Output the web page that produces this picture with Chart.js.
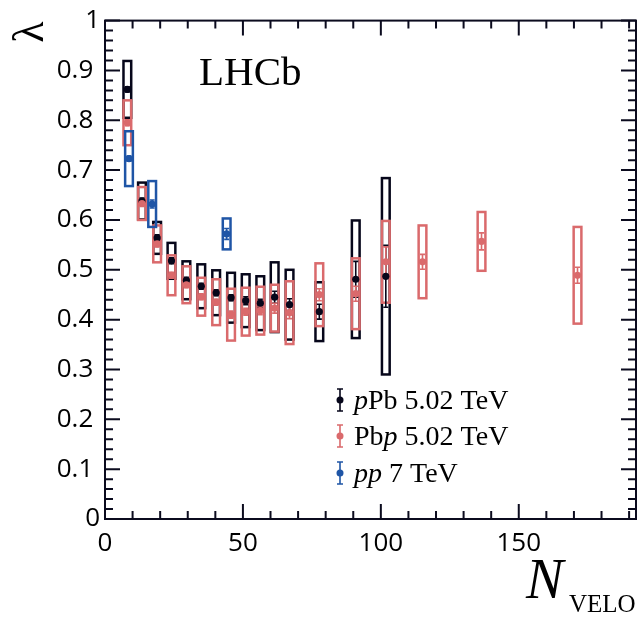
<!DOCTYPE html>
<html>
<head>
<meta charset="utf-8">
<script src="https://cdn.jsdelivr.net/npm/chart.js@4/dist/chart.umd.min.js"></script>
<style>
  html, body { margin: 0; padding: 0; background: #ffffff; }
  #wrap { width: 640px; height: 618px; }
</style>
</head>
<body>
<div id="wrap"><canvas id="c" width="640" height="618"></canvas></div>
<script>
// ---------------- data ----------------
// pPb 5.02 TeV
const nVeloPPb   = [8.1, 13.4, 18.9, 24.1, 29.5, 34.9, 40.3, 45.7, 51.0, 56.3, 61.5, 66.9, 77.7, 90.9, 101.8];
const lambdaPPb  = [0.862, 0.638, 0.564, 0.518, 0.479, 0.467, 0.454, 0.444, 0.438, 0.433, 0.445, 0.430, 0.416, 0.481, 0.487];
const statPPb    = [0.005, 0.006, 0.006, 0.006, 0.006, 0.006, 0.006, 0.006, 0.008, 0.008, 0.012, 0.012, 0.015, 0.036, 0.062];
const sysPPb     = [0.057, 0.037, 0.032, 0.036, 0.038, 0.044, 0.045, 0.050, 0.053, 0.054, 0.070, 0.070, 0.059, 0.118, 0.197];

// Pbp 5.02 TeV
const nVeloPbp   = [8.1, 13.4, 18.9, 24.1, 29.5, 34.9, 40.3, 45.7, 51.0, 56.3, 61.5, 66.9, 77.7, 90.9, 101.8, 115.1, 136.5, 171.3];
const lambdaPbp  = [0.795, 0.633, 0.552, 0.489, 0.470, 0.446, 0.435, 0.410, 0.416, 0.418, 0.423, 0.414, 0.450, 0.452, 0.516, 0.516, 0.557, 0.489];
const statPbp    = [0.006, 0.006, 0.006, 0.006, 0.006, 0.006, 0.006, 0.007, 0.007, 0.008, 0.010, 0.012, 0.012, 0.015, 0.030, 0.015, 0.017, 0.016];
const sysPbp     = [0.045, 0.033, 0.037, 0.040, 0.037, 0.038, 0.046, 0.052, 0.048, 0.048, 0.047, 0.063, 0.063, 0.071, 0.082, 0.073, 0.059, 0.097];

// pp 7 TeV
const nVeloPP    = [8.7, 17.1, 44.1];
const lambdaPP   = [0.723, 0.632, 0.572];
const statPP     = [0.005, 0.008, 0.011];
const sysPP      = [0.055, 0.046, 0.031];

// axis ticks
const xMajorTicks = [0, 50, 100, 150];
const yMajorTicks = [0, 0.1, 0.2, 0.3, 0.4, 0.5, 0.6, 0.7, 0.8, 0.9, 1];
const seriesLabels = ['pPb 5.02 TeV', 'Pbp 5.02 TeV', 'pp 7 TeV'];

// ---------------- styles ----------------
const COL_BLACK = '#06061a';
const COL_RED   = '#da6a6c';
const COL_BLUE  = '#1f55a6';
const COL_AXIS  = '#0b0b1e';
const BOX_HALF_W = 1.4;   // half width of systematic boxes in N_VELO units

function pts(xs, ys) { return xs.map((x, i) => ({ x: x, y: ys[i] })); }

const series = [
  { xs: nVeloPPb, ys: lambdaPPb, stat: statPPb, sys: sysPPb, color: COL_BLACK },
  { xs: nVeloPbp, ys: lambdaPbp, stat: statPbp, sys: sysPbp, color: COL_RED },
  { xs: nVeloPP,  ys: lambdaPP,  stat: statPP,  sys: sysPP,  color: COL_BLUE }
];

const deco = {
  id: 'deco',
  beforeDatasetsDraw(chart) {
    const ctx = chart.ctx, xs = chart.scales.x, ys = chart.scales.y;
    ctx.save();
    series.forEach(s => {
      ctx.strokeStyle = s.color;
      ctx.lineWidth = 2.5;
      s.xs.forEach((x, i) => {
        const x0 = xs.getPixelForValue(x - BOX_HALF_W), x1 = xs.getPixelForValue(x + BOX_HALF_W);
        const y0 = ys.getPixelForValue(s.ys[i] + s.sys[i]), y1 = ys.getPixelForValue(s.ys[i] - s.sys[i]);
        ctx.strokeRect(x0, y0, x1 - x0, y1 - y0);
      });
    });
    series.forEach(s => {
      ctx.strokeStyle = s.color;
      ctx.lineWidth = 1.6;
      s.xs.forEach((x, i) => {
        const px = xs.getPixelForValue(x);
        const y0 = ys.getPixelForValue(s.ys[i] + s.stat[i]), y1 = ys.getPixelForValue(s.ys[i] - s.stat[i]);
        ctx.beginPath();
        ctx.moveTo(px, y0); ctx.lineTo(px, y1);
        ctx.moveTo(px - 2.5, y0); ctx.lineTo(px + 2.5, y0);
        ctx.moveTo(px - 2.5, y1); ctx.lineTo(px + 2.5, y1);
        ctx.stroke();
      });
    });
    ctx.restore();
  },
  afterDraw(chart) {
    const ctx = chart.ctx, xs = chart.scales.x, ys = chart.scales.y, a = chart.chartArea;
    ctx.save();
    ctx.strokeStyle = COL_AXIS;
    ctx.lineWidth = 2;
    ctx.strokeRect(a.left, a.top, a.right - a.left, a.bottom - a.top);
    ctx.beginPath();
    for (let v = 0; v <= xs.max + 1e-9; v += 10) {
      const px = xs.getPixelForValue(v);
      const len = (Math.abs(v % 50) < 1e-6) ? 15 : 8;
      ctx.moveTo(px, a.bottom); ctx.lineTo(px, a.bottom - len);
      ctx.moveTo(px, a.top); ctx.lineTo(px, a.top + len);
    }
    for (let k = 0; k <= 50; k++) {
      const v = k * 0.02;
      const py = ys.getPixelForValue(v);
      const len = (k % 5 === 0) ? 15 : 8;
      ctx.moveTo(a.left, py); ctx.lineTo(a.left + len, py);
      ctx.moveTo(a.right, py); ctx.lineTo(a.right - len, py);
    }
    ctx.stroke();

    // y-axis title (lambda), rotated
    ctx.fillStyle = '#000';
    ctx.save();
    ctx.translate(31, 32);
    ctx.rotate(-Math.PI / 2);
    ctx.font = '44px "Liberation Serif"';
    ctx.textAlign = 'center';
    ctx.textBaseline = 'middle';
    ctx.fillText('λ', 0, 0);
    ctx.restore();

    // x-axis title N_VELO
    ctx.textAlign = 'left';
    ctx.textBaseline = 'alphabetic';
    ctx.font = 'italic 56px "Liberation Serif"';
    ctx.fillText('N', 526, 598);
    ctx.font = '25px "Liberation Serif"';
    ctx.fillText('VELO', 569, 612);

    // LHCb label
    ctx.font = '41px "Liberation Serif"';
    ctx.fillText('LHCb', 199, 85);

    // legend
    const legX = 340, textX = 354;
    const rows = [
      { y: 400, color: COL_BLACK, parts: [['p', true], ['Pb 5.02 TeV', false]] },
      { y: 436, color: COL_RED,   parts: [['Pb', false], ['p', true], [' 5.02 TeV', false]] },
      { y: 473, color: COL_BLUE,  parts: [['pp', true], [' 7 TeV', false]] }
    ];
    rows.forEach(r => {
      ctx.strokeStyle = r.color;
      ctx.fillStyle = r.color;
      ctx.lineWidth = 1.6;
      ctx.beginPath();
      ctx.moveTo(legX, r.y - 11); ctx.lineTo(legX, r.y + 11);
      ctx.moveTo(legX - 3, r.y - 11); ctx.lineTo(legX + 3, r.y - 11);
      ctx.moveTo(legX - 3, r.y + 11); ctx.lineTo(legX + 3, r.y + 11);
      ctx.stroke();
      ctx.beginPath();
      ctx.arc(legX, r.y, 3.5, 0, Math.PI * 2);
      ctx.fill();
      ctx.fillStyle = '#000';
      let tx = textX;
      r.parts.forEach(p => {
        ctx.font = (p[1] ? 'italic ' : '') + '28px "Liberation Serif"';
        ctx.fillText(p[0], tx, r.y + 9);
        tx += ctx.measureText(p[0]).width;
      });
    });
    ctx.restore();
  }
};

const tickFont = { family: '"Open Sans"', size: 26 };

new Chart(document.getElementById('c'), {
  type: 'scatter',
  data: {
    datasets: [
      { label: seriesLabels[1], data: pts(nVeloPbp, lambdaPbp), backgroundColor: COL_RED, borderColor: COL_RED,
        pointRadius: 3.6, pointBorderWidth: 0, order: 0 },
      { label: seriesLabels[0], data: pts(nVeloPPb, lambdaPPb), backgroundColor: COL_BLACK, borderColor: COL_BLACK,
        pointRadius: 3.6, pointBorderWidth: 0, order: 1 },
      { label: seriesLabels[2], data: pts(nVeloPP, lambdaPP), backgroundColor: COL_BLUE, borderColor: COL_BLUE,
        pointRadius: 3.6, pointBorderWidth: 0, order: 2 }
    ]
  },
  options: {
    responsive: false,
    animation: false,
    events: [],
    layout: { padding: { top: 16, right: 2, left: 0, bottom: 0 } },
    plugins: { legend: { display: false }, tooltip: { enabled: false } },
    scales: {
      x: {
        type: 'linear', min: 0, max: 192.5,
        afterBuildTicks: s => { s.ticks = xMajorTicks.map(v => ({ value: v })); },
        ticks: { font: tickFont, color: '#000', padding: 9, maxRotation: 0,
                 callback: v => String(v) },
        grid: { display: false, drawTicks: false },
        border: { display: false },
        afterFit: s => { s.height = 99; }
      },
      y: {
        type: 'linear', min: 0, max: 1,
        afterBuildTicks: s => { s.ticks = yMajorTicks.map(v => ({ value: v })); },
        ticks: { font: tickFont, color: '#000', padding: 5,
                 callback: v => (v === 0 || v === 1) ? String(v) : v.toFixed(1) + ' ' },
        grid: { display: false, drawTicks: false },
        border: { display: false },
        afterFit: s => { s.height; s.width = 105; }
      }
    }
  },
  plugins: [deco]
});
</script>
</body>
</html>
